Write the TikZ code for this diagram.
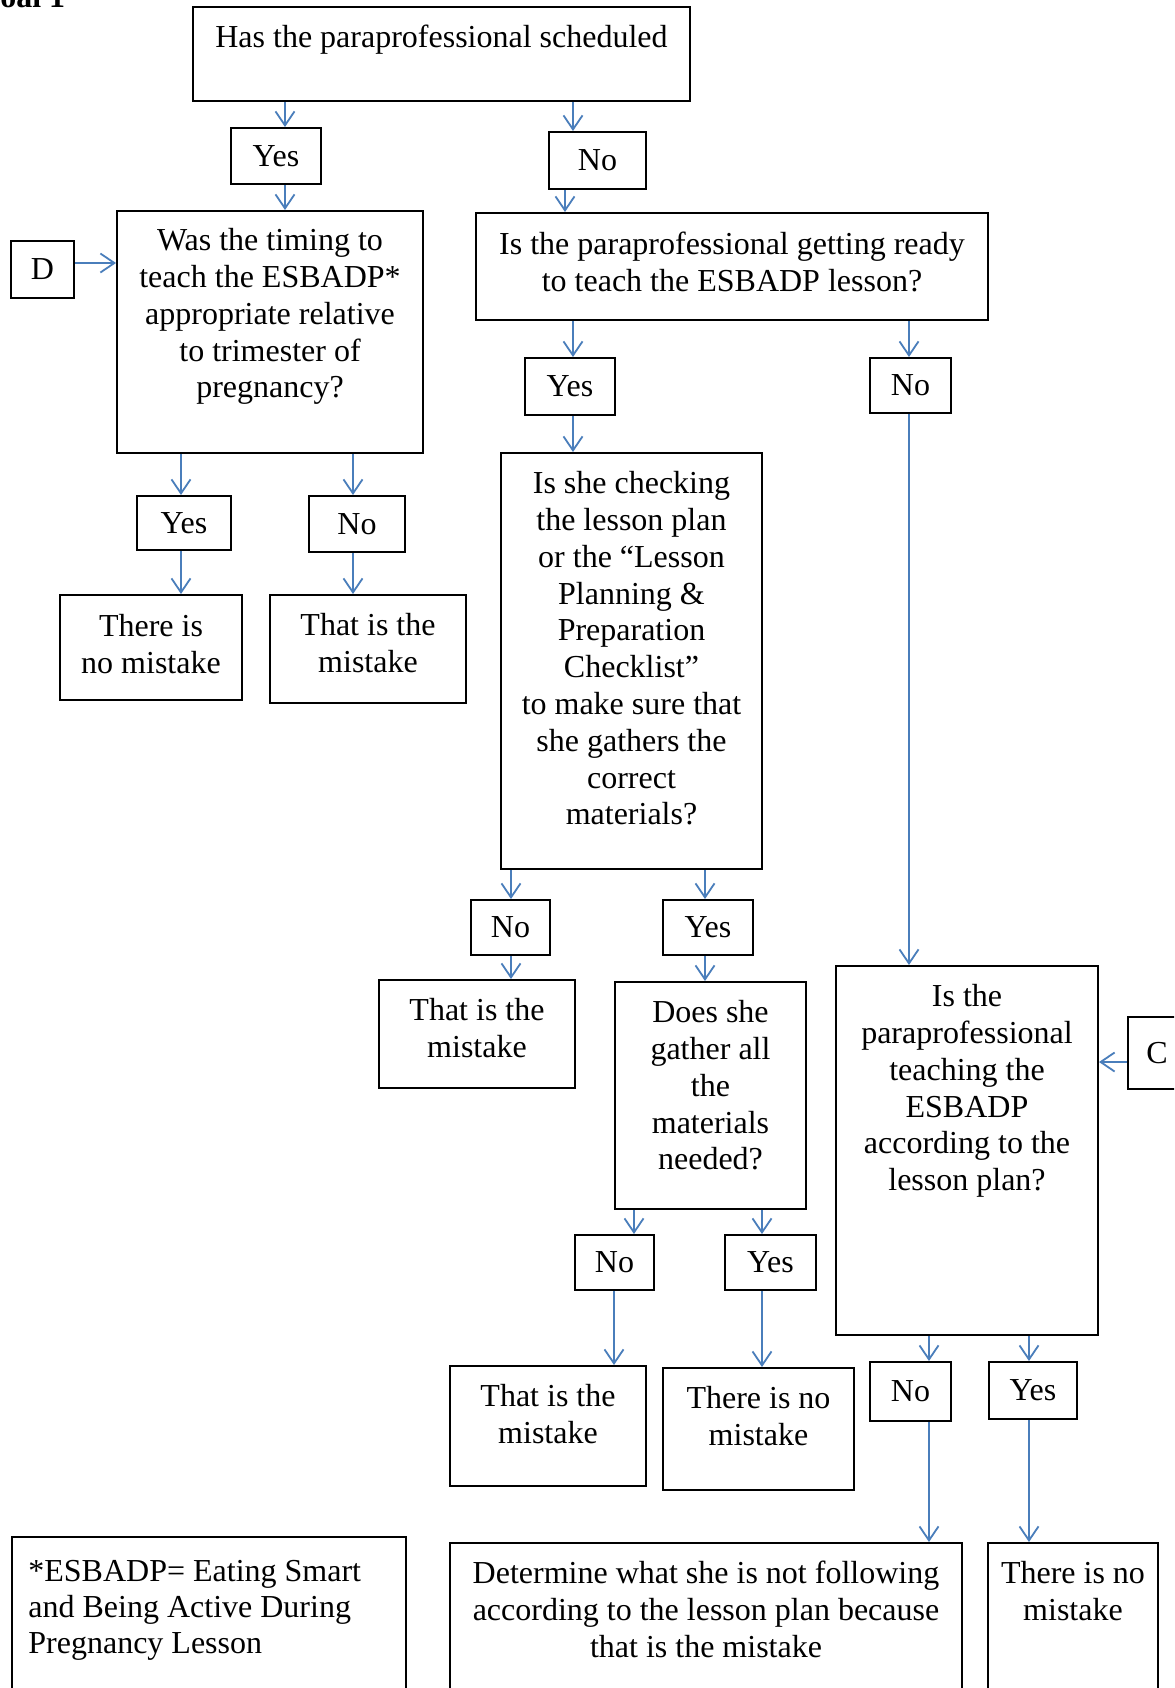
\documentclass[tikz,border=0pt]{standalone}
\usepackage{fontspec}
\setmainfont{Liberation Serif}
\usetikzlibrary{arrows.meta,calc}
\definecolor{arrblue}{RGB}{74,126,187}
\tikzset{
 boxst/.style={draw=black, line width=1pt, inner sep=0pt, font=\fontsize{16pt}{18.4pt}\selectfont},
 txt/.style={inner sep=0pt, align=center, font=\fontsize{16pt}{18.4pt}\selectfont},
 arr/.style={draw=arrblue, line width=0.9pt, -{Straight Barb[length=7pt,width=9.5pt,line width=0.9pt]}},
}
\newcommand{\mkbox}[6]{\node[boxst, anchor=north west, minimum width={(#4-#2)*0.5pt}, minimum height={(#5-#3)*0.5pt}] (#1) at (#2,#3) {#6};}
\begin{document}
\begin{tikzpicture}[x=0.5pt,y=-0.5pt]
\useasboundingbox (0,0) rectangle (1174,1688);
\clip (0,0) rectangle (1174,1688);
\fill[white] (0,0) rectangle (1174,1688);
\node[font=\fontsize{16pt}{18.4pt}\selectfont\bfseries, anchor=base west, inner sep=0pt] (goal) at (-25,7) {Goal 1};
% boxes
\mkbox{top}{192}{6}{689}{100}{}
\mkbox{yes1}{230}{127}{320}{183}{Yes}
\mkbox{no1}{548}{131}{645}{188}{No}
\mkbox{timing}{116}{210}{422}{452}{}
\mkbox{dbox}{10}{240}{73}{297}{D}
\mkbox{ready}{475}{212}{987}{319}{}
\mkbox{yes2}{136}{495}{230}{549}{Yes}
\mkbox{no2}{308}{495}{404}{551}{No}
\mkbox{nomis1}{59}{594}{241}{699}{}
\mkbox{mis1}{269}{594}{465}{702}{}
\mkbox{yes3}{524}{357}{614}{414}{Yes}
\mkbox{no3}{869}{357}{950}{412}{No}
\mkbox{check}{500}{452}{761}{868}{}
\mkbox{no4}{470}{899}{549}{954}{No}
\mkbox{yes4}{662}{899}{752}{954}{Yes}
\mkbox{mis2}{378}{979}{574}{1087}{}
\mkbox{gather}{614}{981}{805}{1208}{}
\mkbox{teach}{835}{965}{1097}{1334}{}
\mkbox{cbox}{1127}{1016}{1185}{1088}{C}
\mkbox{no5}{574}{1234}{653}{1289}{No}
\mkbox{yes5}{724}{1234}{815}{1289}{Yes}
\mkbox{mis3}{449}{1365}{645}{1485}{}
\mkbox{nomis2}{662}{1367}{853}{1489}{}
\mkbox{no6}{869}{1361}{950}{1420}{No}
\mkbox{yes6}{988}{1361}{1076}{1418}{Yes}
\mkbox{det}{449}{1542}{961}{1720}{}
\mkbox{nomis3}{987}{1542}{1157}{1720}{}
\mkbox{foot}{11}{1536}{405}{1720}{}
% texts
\node[txt, anchor=north] (top-t) at ($(top.north)+(0,19)$) {Has the paraprofessional scheduled};
\node[txt, anchor=north] (timing-t) at ($(timing.north)+(0,18)$) {Was the timing to\\teach the ESBADP*\\appropriate relative\\to trimester of\\pregnancy?};
\node[txt, anchor=north] (ready-t) at ($(ready.north)+(0,20)$) {Is the paraprofessional getting ready\\to teach the ESBADP lesson?};
\node[txt, anchor=north] (nomis1-t) at ($(nomis1.north)+(0,20)$) {There is\\no mistake};
\node[txt, anchor=north] (mis1-t) at ($(mis1.north)+(0,19)$) {That is the\\mistake};
\node[txt, anchor=north] (check-t) at ($(check.north)+(0,19)$) {Is she checking\\the lesson plan\\or the “Lesson\\Planning \&\\Preparation\\Checklist”\\to make sure that\\she gathers the\\correct\\materials?};
\node[txt, anchor=north] (mis2-t) at ($(mis2.north)+(0,19)$) {That is the\\mistake};
\node[txt, anchor=north] (gather-t) at ($(gather.north)+(0,19)$) {Does she\\gather all\\the\\materials\\needed?};
\node[txt, anchor=north] (teach-t) at ($(teach.north)+(0,19)$) {Is the\\paraprofessional\\teaching the\\ESBADP\\according to the\\lesson plan?};
\node[txt, anchor=north] (mis3-t) at ($(mis3.north)+(0,19)$) {That is the\\mistake};
\node[txt, anchor=north] (nomis2-t) at ($(nomis2.north)+(0,19)$) {There is no\\mistake};
\node[txt, anchor=north] (det-t) at ($(det.north)+(0,19)$) {Determine what she is not following\\according to the lesson plan because\\that is the mistake};
\node[txt, anchor=north] (nomis3-t) at ($(nomis3.north)+(0,19)$) {There is no\\mistake};
\node[txt, anchor=north west, align=left, font=\fontsize{16pt}{18pt}\selectfont] (foot-t) at (28,1560) {*ESBADP= Eating Smart\\and Being Active During\\Pregnancy Lesson};
% x positions
\coordinate (xa) at (285,0);
\coordinate (xb) at (573,0);
\coordinate (xc) at (565,0);
\coordinate (xd) at (181,0);
\coordinate (xe) at (353,0);
\coordinate (xf) at (909,0);
\coordinate (xg) at (511,0);
\coordinate (xh) at (705,0);
\coordinate (xi) at (634,0);
\coordinate (xj) at (614,0);
\coordinate (xk) at (762,0);
\coordinate (xl) at (929,0);
\coordinate (xm) at (1029,0);
\coordinate (yd) at (0,263);
\coordinate (yc) at (0,1062);
% connectors
\draw[arr] (top.south -| xa) -- (yes1.north -| xa);
\draw[arr] (top.south -| xb) -- (no1.north -| xb);
\draw[arr] (yes1.south -| xa) -- (timing.north -| xa);
\draw[arr] (no1.south -| xc) -- (ready.north -| xc);
\draw[arr] (dbox.east |- yd) -- (timing.west |- yd);
\draw[arr] (timing.south -| xd) -- (yes2.north -| xd);
\draw[arr] (timing.south -| xe) -- (no2.north -| xe);
\draw[arr] (yes2.south -| xd) -- (nomis1.north -| xd);
\draw[arr] (no2.south -| xe) -- (mis1.north -| xe);
\draw[arr] (ready.south -| xb) -- (yes3.north -| xb);
\draw[arr] (ready.south -| xf) -- (no3.north -| xf);
\draw[arr] (yes3.south -| xb) -- (check.north -| xb);
\draw[arr] (no3.south -| xf) -- (teach.north -| xf);
\draw[arr] (check.south -| xg) -- (no4.north -| xg);
\draw[arr] (check.south -| xh) -- (yes4.north -| xh);
\draw[arr] (no4.south -| xg) -- (mis2.north -| xg);
\draw[arr] (yes4.south -| xh) -- (gather.north -| xh);
\draw[arr] (cbox.west |- yc) -- (teach.east |- yc);
\draw[arr] (gather.south -| xi) -- (no5.north -| xi);
\draw[arr] (gather.south -| xk) -- (yes5.north -| xk);
\draw[arr] (no5.south -| xj) -- (mis3.north -| xj);
\draw[arr] (yes5.south -| xk) -- (nomis2.north -| xk);
\draw[arr] (teach.south -| xl) -- (no6.north -| xl);
\draw[arr] (teach.south -| xm) -- (yes6.north -| xm);
\draw[arr] (no6.south -| xl) -- (det.north -| xl);
\draw[arr] (yes6.south -| xm) -- (nomis3.north -| xm);
\end{tikzpicture}
\end{document}
